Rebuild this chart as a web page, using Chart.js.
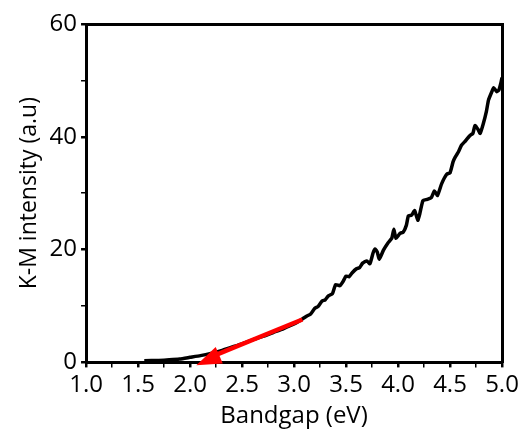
<!DOCTYPE html>
<html>
<head>
<meta charset="utf-8">
<script src="https://cdn.jsdelivr.net/npm/chart.js@4"></script>
<style>
  html, body { margin: 0; padding: 0; background: #fff; }
  #wrap { width: 529px; height: 434px; }
</style>
</head>
<body>
<div id="wrap"><canvas id="grafico" width="529" height="434"></canvas></div>
<script>
// K-M curve
const energia = [1.56, 1.7, 1.8, 1.9, 2.0, 2.1, 2.2, 2.3, 2.4, 2.5, 2.6, 2.7, 2.8, 2.9, 3.0, 3.08,
  3.12, 3.16, 3.2, 3.23, 3.27, 3.3, 3.33, 3.37, 3.4, 3.44, 3.47, 3.5, 3.53, 3.56, 3.6, 3.63, 3.66,
  3.7, 3.73, 3.76, 3.78, 3.8, 3.82, 3.86, 3.9, 3.94, 3.96, 3.98, 4.02, 4.05, 4.08, 4.1, 4.13, 4.16,
  4.19, 4.21, 4.24, 4.28, 4.32, 4.35, 4.38, 4.42, 4.47, 4.5, 4.53, 4.55, 4.58, 4.61, 4.65, 4.69,
  4.72, 4.74, 4.77, 4.79, 4.82, 4.85, 4.87, 4.9, 4.92, 4.95, 4.97, 4.99, 5.0];
const intensidad = [0.3, 0.35, 0.45, 0.6, 0.9, 1.2, 1.6, 2.1, 2.7, 3.3, 4.0, 4.6, 5.3, 6.0, 6.8, 7.7,
  8.2, 8.6, 9.6, 9.9, 10.9, 11.1, 11.8, 12.2, 13.8, 13.6, 14.3, 15.3, 15.2, 15.9, 16.6, 16.8, 17.6,
  18.0, 17.5, 19.4, 20.1, 19.6, 18.3, 19.9, 21.1, 22.0, 23.6, 22.0, 22.9, 23.1, 24.3, 26.0, 26.1, 26.9,
  25.2, 26.4, 28.7, 28.9, 29.2, 30.4, 29.6, 31.7, 33.4, 33.6, 35.6, 36.4, 37.3, 38.5, 39.3, 40.2,
  40.6, 42.0, 41.3, 40.6, 42.3, 44.5, 46.5, 47.9, 48.7, 48.0, 48.3, 49.6, 50.5];

// red tangent: drawn segment and arrow tip
const rectaX = [3.08, 2.22];
const rectaY = [7.6, 1.1];
const puntaX = 2.06;
const puntaY = -0.5;

const ticksX = [1.0, 1.5, 2.0, 2.5, 3.0, 3.5, 4.0, 4.5, 5.0];
const ticksY = [0, 20, 40, 60];

const fuente = "'Open Sans', 'Liberation Sans', sans-serif";

const cabezaFlecha = {
  id: 'cabezaFlecha',
  afterDatasetsDraw(chart) {
    const sx = chart.scales.x, sy = chart.scales.y;
    const x0 = sx.getPixelForValue(rectaX[0]), y0 = sy.getPixelForValue(rectaY[0]);
    const x1 = sx.getPixelForValue(puntaX), y1 = sy.getPixelForValue(puntaY);
    const ang = Math.atan2(y1 - y0, x1 - x0);
    const largo = 25, ancho = 9;
    const ctx = chart.ctx;
    ctx.save();
    ctx.fillStyle = '#ff0000';
    ctx.beginPath();
    ctx.moveTo(x1, y1);
    ctx.lineTo(x1 - largo * Math.cos(ang) - ancho * Math.sin(ang), y1 - largo * Math.sin(ang) + ancho * Math.cos(ang));
    ctx.lineTo(x1 - largo * Math.cos(ang) + ancho * Math.sin(ang), y1 - largo * Math.sin(ang) - ancho * Math.cos(ang));
    ctx.closePath();
    ctx.fill();
    ctx.restore();
  }
};

const esMayor = (v, lista) => lista.some(t => Math.abs(t - v) < 1e-6);

new Chart(document.getElementById('grafico'), {
  type: 'line',
  data: {
    datasets: [
      {
        data: rectaX.map((x, i) => ({ x, y: rectaY[i] })),
        borderColor: '#ff0000',
        borderWidth: 4.5,
        pointRadius: 0,
        order: 0
      },
      {
        data: energia.map((x, i) => ({ x, y: intensidad[i] })),
        borderColor: '#000000',
        borderWidth: 3.5,
        pointRadius: 0,
        tension: 0.15,
        order: 1
      }
    ]
  },
  plugins: [cabezaFlecha],
  options: {
    responsive: false,
    animation: false,
    layout: { padding: { left: 16, right: 27, top: 24, bottom: 3 } },
    plugins: { legend: { display: false }, tooltip: { enabled: false } },
    scales: {
      x: {
        type: 'linear', min: 1, max: 5,
        border: { display: true, color: '#000', width: 3 },
        grid: {
          drawOnChartArea: false, drawTicks: true, tickLength: 5,
          color: '#000',
          lineWidth: c => esMayor(c.tick.value, ticksX) ? 2.5 : 1.5
        },
        ticks: {
          stepSize: 0.25, autoSkip: false, maxRotation: 0, color: '#000', padding: 3,
          font: { family: fuente, size: 24 },
          callback: v => esMayor(v, ticksX) ? v.toFixed(1) : ''
        },
        title: { display: true, text: 'Bandgap (eV)', color: '#000', font: { family: fuente, size: 24 }, padding: { top: 0, bottom: 0 } }
      },
      y: {
        type: 'linear', min: 0, max: 60,
        border: { display: true, color: '#000', width: 3 },
        grid: {
          drawOnChartArea: false, drawTicks: true, tickLength: 5,
          color: '#000',
          lineWidth: c => esMayor(c.tick.value, ticksY) ? 2.5 : 1.5
        },
        ticks: {
          stepSize: 10, color: '#000', padding: 4,
          font: { family: fuente, size: 24 },
          callback: v => esMayor(v, ticksY) ? v : ''
        },
        title: { display: true, text: 'K-M intensity (a.u)', color: '#000', font: { family: fuente, size: 23 }, padding: { top: 0, bottom: 2 } }
      },
      x2: {
        type: 'linear', position: 'top', min: 1, max: 5,
        border: { display: true, color: '#000', width: 3 },
        grid: { drawOnChartArea: false, drawTicks: false },
        ticks: { display: false }
      },
      y2: {
        type: 'linear', position: 'right', min: 0, max: 60,
        border: { display: true, color: '#000', width: 3 },
        grid: { drawOnChartArea: false, drawTicks: false },
        ticks: { display: false }
      }
    }
  }
});
</script>
</body>
</html>
